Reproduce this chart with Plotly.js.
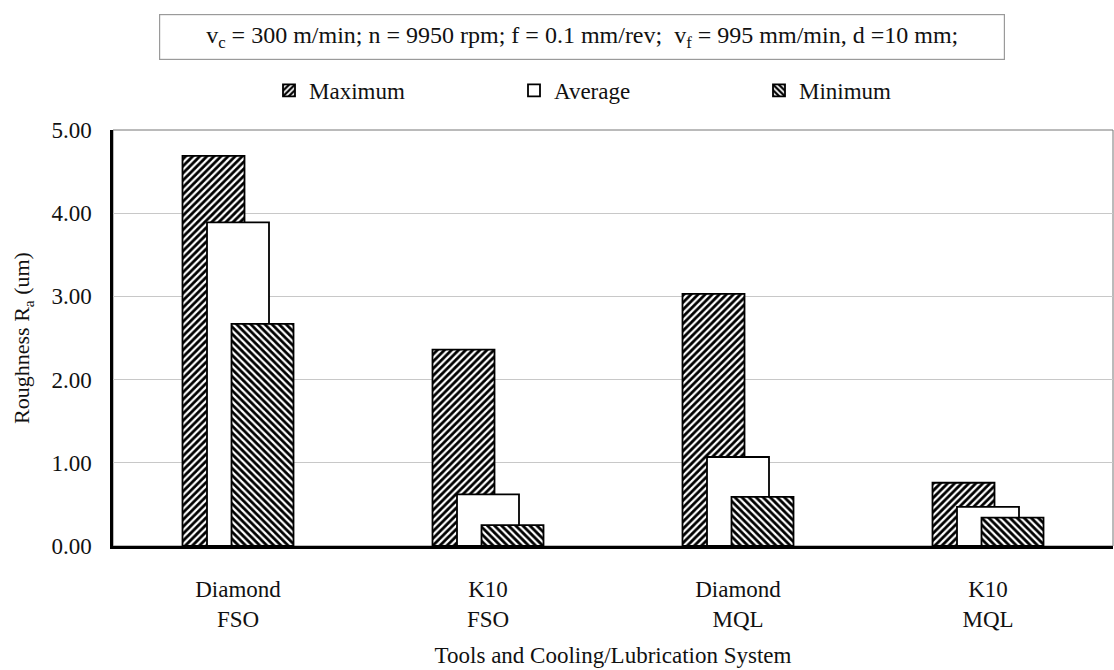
<!DOCTYPE html>
<html>
<head>
<meta charset="utf-8">
<script src="https://cdn.plot.ly/plotly-3.0.1.min.js"></script>
<style>html,body{margin:0;padding:0;background:#fff;}#chart{width:1114px;height:670px;}</style>
</head>
<body>
<div id="chart"></div>
<script>
const categories = ["Diamond<br>FSO", "K10<br>FSO", "Diamond<br>MQL", "K10<br>MQL"];
const seriesNames = ["Maximum", "Average", "Minimum"];
const maximumValues = [4.69, 2.36, 3.03, 0.76];
const averageValues = [3.89, 0.62, 1.07, 0.47];
const minimumValues = [2.67, 0.25, 0.59, 0.34];
const yTickValues = [0, 1, 2, 3, 4, 5];
const yTickLabels = ["0.00", "1.00", "2.00", "3.00", "4.00", "5.00"];
const conditionsText = "v<sub>c</sub> = 300 m/min; n = 9950 rpm; f = 0.1 mm/rev;  v<sub>f</sub> = 995 mm/min, d =10 mm;";

const FONT = "'Liberation Serif', 'Times New Roman', Times, serif";
const barW = 0.248;
const step = 0.098;

function barTrace(name, values, offset, pattern) {
  const t = {
    type: "bar",
    name: name,
    x: categories,
    y: values,
    width: barW,
    offset: offset,
    marker: {
      color: "#ffffff",
      line: {color: "#000000", width: 1.8}
    },
    hoverinfo: "y+name"
  };
  if (pattern) {
    t.marker.pattern = {shape: pattern, fgcolor: "#000000", bgcolor: "#ffffff", size: 5, solidity: 0.55};
  }
  return t;
}

const data = [
  barTrace(seriesNames[0], maximumValues, -barW/2 - step, "/"),
  barTrace(seriesNames[1], averageValues, -barW/2, null),
  barTrace(seriesNames[2], minimumValues, -barW/2 + step, "\\")
];

const layout = {
  width: 1114,
  height: 670,
  paper_bgcolor: "#ffffff",
  plot_bgcolor: "#ffffff",
  font: {family: FONT, color: "#111111", size: 22},
  barmode: "overlay",
  margin: {l: 113, r: 1, t: 129.5, b: 123.5},
  showlegend: true,
  legend: {
    orientation: "h",
    x: 0.156, xanchor: "left",
    y: 1.095, yanchor: "middle",
    font: {family: FONT, size: 23, color: "#111111"},
    entrywidth: 200,
    entrywidthmode: "pixels",
    itemwidth: 30,
    traceorder: "normal",
    bgcolor: "rgba(0,0,0,0)"
  },
  xaxis: {
    type: "category",
    range: [-0.5, 3.5],
    showgrid: false,
    showline: true,
    linecolor: "#000000",
    linewidth: 2.5,
    ticks: "",
    tickfont: {family: FONT, size: 23, color: "#111111"},
    ticklabelstandoff: 21,
    zeroline: false,
    title: {text: "Tools and Cooling/Lubrication System", font: {family: FONT, size: 23, color: "#111111"}, standoff: 16}
  },
  yaxis: {
    range: [0, 5],
    tickvals: yTickValues,
    ticktext: yTickLabels,
    showgrid: true,
    gridcolor: "#c8c8c8",
    gridwidth: 1,
    showline: true,
    linecolor: "#000000",
    linewidth: 2.5,
    ticks: "",
    zeroline: false,
    tickfont: {family: FONT, size: 23, color: "#111111"},
    ticklabelstandoff: 14,
    title: {text: "Roughness R<sub>a</sub> (um)", font: {family: FONT, size: 22, color: "#111111"}, standoff: 16}
  },
  shapes: [
    {type: "rect", xref: "paper", yref: "paper", x0: 0, x1: 1, y0: 0, y1: 1,
     line: {color: "#777777", width: 1}, layer: "below"}
  ],
  annotations: [
    {
      xref: "paper", yref: "paper",
      x: (582 - 113) / 1000, y: 1 + (129.5 - 36) / 417,
      xanchor: "center", yanchor: "middle",
      text: conditionsText,
      showarrow: false,
      font: {family: FONT, size: 24, color: "#111111"},
      bordercolor: "#9a9a9a",
      borderwidth: 1.2,
      borderpad: 3,
      width: 838,
      height: 38,
      bgcolor: "#ffffff"
    }
  ]
};

Plotly.newPlot("chart", data, layout, {displayModeBar: false, responsive: false});
</script>
</body>
</html>
